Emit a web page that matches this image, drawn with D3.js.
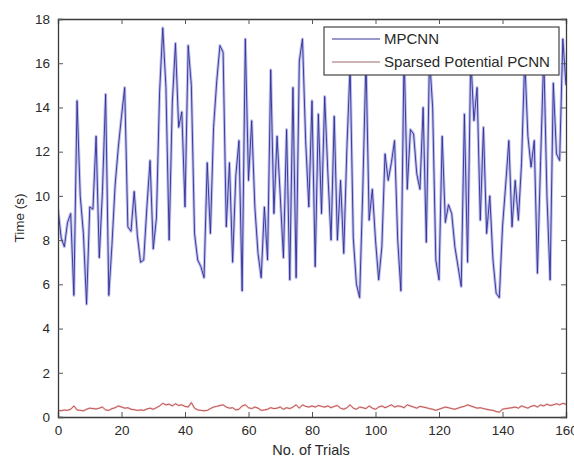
<!DOCTYPE html>
<html>
<head>
<meta charset="utf-8">
<script src="https://cdnjs.cloudflare.com/ajax/libs/d3/7.8.5/d3.min.js"></script>
<style>
  body { margin: 0; background: #fff; }
  svg text { font-family: "Liberation Sans", Arial, sans-serif; fill: #2a2a2a; }
</style>
</head>
<body>
<svg id="chart" width="574" height="458"></svg>
<script>
// values, one per trial (0..160)
var mpcnn = [
  9.4, 8.1, 7.7, 8.8, 9.2, 5.5, 14.3, 10.0, 8.3, 5.1,
  9.5, 9.4, 12.7, 7.2, 10.2, 14.6, 5.5, 7.8, 10.5, 12.2,
  13.6, 14.9, 8.6, 8.4, 10.2, 8.2, 7.0, 7.1, 9.5, 11.6,
  7.6, 9.0, 14.7, 17.6, 14.9, 8.0, 14.2, 16.9, 13.1, 13.8,
  9.5, 16.8, 15.0, 8.3, 7.1, 6.8, 6.3, 11.5, 8.3, 13.1,
  15.2, 16.8, 16.5, 8.6, 11.5, 7.0, 10.9, 12.5, 5.7, 17.1,
  10.7, 13.4, 9.5, 7.4, 6.3, 9.5, 7.1, 15.7, 9.2, 12.7,
  10.0, 7.2, 13.0, 6.2, 14.9, 6.3, 16.1, 17.1, 12.5, 9.5,
  14.3, 6.8, 13.7, 9.2, 14.5, 11.0, 8.0, 13.6, 8.0, 10.7,
  7.4, 12.2, 15.9, 8.1, 6.0, 5.4, 10.3, 16.2, 8.9, 10.3,
  8.0, 6.2, 7.7, 11.9, 10.7, 11.5, 12.5, 8.0, 5.7, 16.5,
  10.3, 13.0, 12.8, 11.0, 10.3, 14.0, 7.9, 16.3, 14.0, 7.1,
  6.2, 12.7, 8.8, 9.6, 9.2, 7.7, 6.8, 5.9, 13.7, 7.0,
  16.3, 13.4, 14.9, 8.9, 13.1, 8.3, 10.0, 7.1, 5.6, 5.4,
  8.6, 10.5, 12.5, 8.6, 10.7, 8.9, 11.5, 16.2, 12.7, 11.3,
  12.5, 6.5, 11.6, 16.4, 10.0, 6.2, 15.1, 11.9, 11.6, 17.1,
  15.0
];
var sparsed = [
  0.30, 0.28, 0.32, 0.30, 0.35, 0.50, 0.32, 0.30, 0.28, 0.35,
  0.40, 0.38, 0.36, 0.40, 0.45, 0.32, 0.30, 0.38, 0.42, 0.50,
  0.45, 0.40, 0.42, 0.35, 0.33, 0.30, 0.32, 0.30, 0.36, 0.40,
  0.35, 0.42, 0.50, 0.62, 0.55, 0.58, 0.50, 0.60, 0.52, 0.55,
  0.48, 0.45, 0.65, 0.40, 0.32, 0.30, 0.28, 0.30, 0.38, 0.45,
  0.48, 0.52, 0.55, 0.45, 0.40, 0.42, 0.32, 0.35, 0.50, 0.55,
  0.42, 0.38, 0.45, 0.40, 0.30, 0.32, 0.35, 0.42, 0.38, 0.40,
  0.45, 0.35, 0.42, 0.38, 0.45, 0.55, 0.40, 0.55, 0.48, 0.45,
  0.50, 0.45, 0.52, 0.48, 0.45, 0.50, 0.42, 0.48, 0.52, 0.40,
  0.35, 0.42, 0.55, 0.40, 0.35, 0.45, 0.42, 0.38, 0.50, 0.40,
  0.35, 0.45, 0.50, 0.42, 0.48, 0.55, 0.45, 0.50, 0.48, 0.42,
  0.55, 0.50, 0.45, 0.40, 0.48, 0.45, 0.42, 0.38, 0.35, 0.30,
  0.35, 0.40, 0.45, 0.42, 0.38, 0.35, 0.40, 0.45, 0.48, 0.55,
  0.50, 0.45, 0.40, 0.42, 0.38, 0.35, 0.32, 0.30, 0.25, 0.22,
  0.35, 0.38, 0.40, 0.42, 0.45, 0.40, 0.50, 0.45, 0.40, 0.48,
  0.52, 0.45, 0.55, 0.50, 0.58, 0.52, 0.55, 0.60, 0.55, 0.62,
  0.58
];
var seriesNames = ["MPCNN", "Sparsed Potential PCNN"];
var xTicks = [0, 20, 40, 60, 80, 100, 120, 140, 160];
var yTicks = [0, 2, 4, 6, 8, 10, 12, 14, 16, 18];

var svg = d3.select("svg#chart");
// note: "top" is taken by window.top, so use other names
var padL = 58, padR = 566, padT = 19, padB = 417;

var x = d3.scaleLinear().domain([0, 160]).range([padL, padR]);
var y = d3.scaleLinear().domain([0, 18]).range([padB, padT]);

var line = d3.line()
    .x(function (d, i) { return x(i); })
    .y(function (d) { return y(d); });

// clip to the axes box
svg.append("clipPath").attr("id", "plotclip")
  .append("rect")
    .attr("x", padL).attr("y", padT)
    .attr("width", padR - padL).attr("height", padB - padT);

var plot = svg.append("g").attr("clip-path", "url(#plotclip)");

// blurry lavender halo + dark core, like the jpeg'd matlab line
function drawLine(data, halo, core, haloW) {
  plot.append("path")
      .datum(data)
      .attr("d", line)
      .attr("fill", "none")
      .attr("stroke", halo)
      .attr("stroke-width", haloW)
      .attr("stroke-linejoin", "round");
  plot.append("path")
      .datum(data)
      .attr("d", line)
      .attr("fill", "none")
      .attr("stroke", core)
      .attr("stroke-width", 0.9)
      .attr("stroke-linejoin", "round");
}
drawLine(mpcnn, "#c2c2ec", "#2e2e96", 3);
drawLine(sparsed, "#f2c8c8", "#b84848", 2);

// axes (matlab style: ticks inside, mirrored on top/right)
var axB = svg.append("g").attr("transform", "translate(0," + padB + ")")
    .call(d3.axisBottom(x).tickValues(xTicks).tickSize(-5).tickPadding(8));
var axT = svg.append("g").attr("transform", "translate(0," + padT + ")")
    .call(d3.axisTop(x).tickValues(xTicks).tickSize(-5).tickFormat(""));
var axL = svg.append("g").attr("transform", "translate(" + padL + ",0)")
    .call(d3.axisLeft(y).tickValues(yTicks).tickSize(-5).tickPadding(8));
var axR = svg.append("g").attr("transform", "translate(" + padR + ",0)")
    .call(d3.axisRight(y).tickValues(yTicks).tickSize(-5).tickFormat(""));

[axB, axT, axL, axR].forEach(function (a) {
  a.select(".domain").attr("stroke", "#3a3a3a").attr("stroke-width", 1.3);
  a.selectAll(".tick line").attr("stroke", "#555");
  a.selectAll("text").attr("font-size", 13.5).style("fill", "#2a2a2a");
});

svg.append("text")
    .attr("x", 311)
    .attr("y", 455)
    .attr("text-anchor", "middle")
    .attr("font-size", 14.5)
    .text("No. of Trials");

svg.append("text")
    .attr("transform", "translate(24," + (padT + padB) / 2 + ") rotate(-90)")
    .attr("text-anchor", "middle")
    .attr("font-size", 13.5)
    .text("Time (s)");

// legend
var legend = svg.append("g").attr("transform", "translate(324,27)");
legend.append("rect")
    .attr("width", 235).attr("height", 48)
    .attr("fill", "#fff").attr("stroke", "#444").attr("stroke-width", 1.2);
var legendColors = ["#34349a", "#9a6a6a"];
seriesNames.forEach(function (name, i) {
  var ly = 12 + i * 23;
  legend.append("line")
      .attr("x1", 8).attr("x2", 56)
      .attr("y1", ly).attr("y2", ly)
      .attr("stroke", legendColors[i]).attr("stroke-width", 1.2);
  legend.append("text")
      .attr("x", 60).attr("y", ly + 5)
      .attr("font-size", 14.5)
      .attr("textLength", i === 0 ? 55 : 166)
      .attr("lengthAdjust", "spacingAndGlyphs")
      .text(name);
});
</script>
</body>
</html>
